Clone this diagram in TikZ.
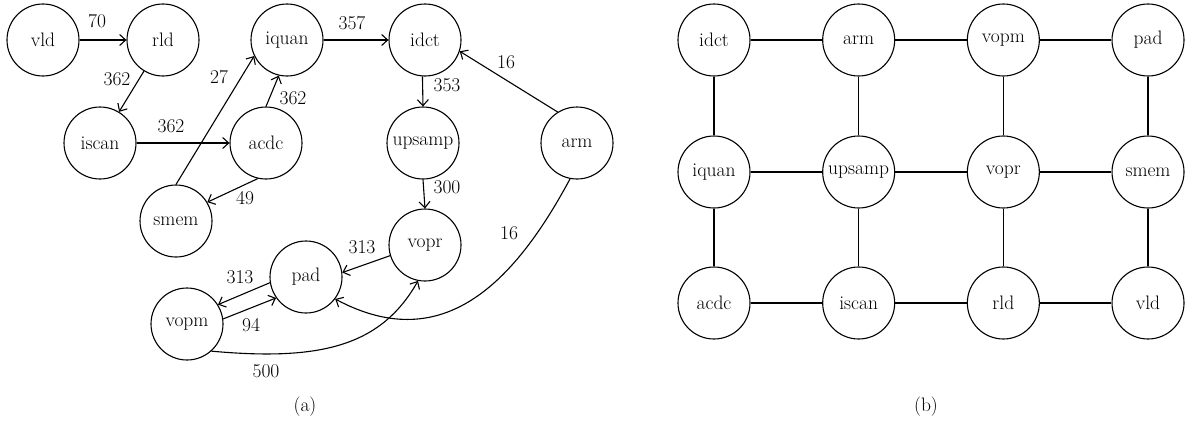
\documentclass[tikz,border=0pt]{standalone}
\usetikzlibrary{arrows.meta}
\begin{document}
\begin{tikzpicture}[x=1pt,y=-1pt,
  task/.style={draw,circle,minimum size=72pt,inner sep=0pt,line width=1.1pt,
    font=\fontsize{19.5}{23}\selectfont},
  lbl/.style={font=\fontsize{19.5}{23}\selectfont,inner sep=0pt},
  flow/.style={line width=1.1pt,-{Straight Barb[length=6pt,width=11pt,line width=1.1pt]}},
  link/.style={line width=1.1pt}]
\useasboundingbox (0,0) rectangle (1196,423);

% (a) task graph with communication volumes
\node[task] (vld)    at (43,40)   {vld};
\node[task] (rld)    at (163,40)  {rld};
\node[task] (iscan)  at (100,143) {iscan};
\node[task] (acdc)   at (266,143) {acdc};
\node[task] (iquan)  at (287,40)  {iquan};
\node[task] (smem)   at (176,221) {smem};
\node[task] (idct)   at (425,40)  {idct};
\node[task] (upsamp) at (423,143) {upsamp};
\node[task] (arm)    at (577,143) {arm};
\node[task] (vopr)   at (425,245) {vopr};
\node[task] (pad)    at (306,277) {pad};
\node[task] (vopm)   at (187,324) {vopm};

\draw[flow] (vld) -- (rld);
\draw[flow] (rld) -- (iscan);
\draw[flow] (iscan) -- (acdc);
\draw[flow] (acdc.north) -- (iquan.257);
\draw[flow] (smem.north) -- (iquan.206);
\draw[flow] (acdc.257) -- (smem.31);
\draw[flow] (iquan) -- (idct);
\draw[flow] (idct.266) -- (upsamp.north);
\draw[flow] (arm.122) -- (idct.342);
\draw[flow] (upsamp.south) -- (vopr.north);
\draw[flow] (vopr.197) -- (pad.7);
\draw[flow] (pad.189) -- (vopm.32);
\draw[flow] (vopm.8) -- (pad.215);
\draw[flow] (vopm.312) .. controls +(110,10) and +(-37,65) .. (vopr.259);
\draw[flow] (arm.259) .. controls +(-60,112) and +(103,55) .. (pad.323);

\node[lbl] (w1)  at (97,21)   {70};
\node[lbl] (w2)  at (117,79)  {362};
\node[lbl] (w3)  at (171,126) {362};
\node[lbl] (w4)  at (219,77)  {27};
\node[lbl] (w5)  at (293,98)  {362};
\node[lbl] (w6)  at (245,198) {49};
\node[lbl] (w7)  at (352,23)  {357};
\node[lbl] (w8)  at (447,85)  {353};
\node[lbl] (w9)  at (506,62)  {16};
\node[lbl] (w10) at (447,187) {300};
\node[lbl] (w11) at (362,247) {313};
\node[lbl] (w12) at (240,277) {313};
\node[lbl] (w13) at (251,325) {94};
\node[lbl] (w14) at (266,371) {500};
\node[lbl] (w15) at (509,233) {16};
\node[lbl] (capa) at (305,407) {(a)};

% (b) mapping onto a 4x3 mesh
\foreach \name [count=\i] in {idct,arm,vopm,pad}
  \node[task] (b-\name) at ({714+(\i-1)*144.67},40) {\name};
\foreach \name [count=\i] in {iquan,upsamp,vopr,smem}
  \node[task] (b-\name) at ({714+(\i-1)*144.67},172) {\name};
\foreach \name [count=\i] in {acdc,iscan,rld,vld}
  \node[task] (b-\name) at ({714+(\i-1)*144.67},303) {\name};

\draw[link] (b-idct) -- (b-arm) -- (b-vopm) -- (b-pad);
\draw[link] (b-iquan) -- (b-upsamp) -- (b-vopr) -- (b-smem);
\draw[link] (b-acdc) -- (b-iscan) -- (b-rld) -- (b-vld);
\draw[link] (b-idct) -- (b-iquan) -- (b-acdc);
\draw[link] (b-arm) -- (b-upsamp) -- (b-iscan);
\draw[link] (b-vopm) -- (b-vopr) -- (b-rld);
\draw[link] (b-pad) -- (b-smem) -- (b-vld);
\node[lbl] (capb) at (926,407) {(b)};
\end{tikzpicture}
\end{document}
